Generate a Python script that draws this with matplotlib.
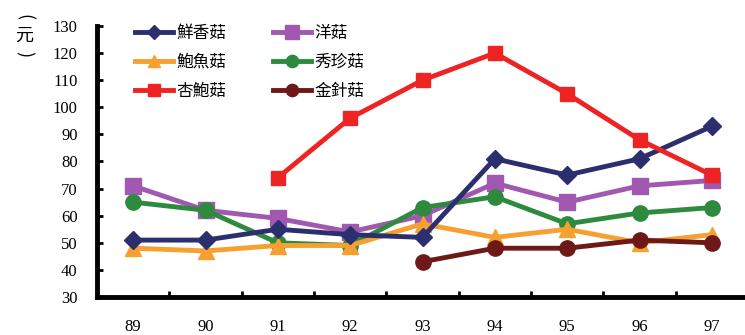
import matplotlib
matplotlib.use("Agg")
import matplotlib.pyplot as plt
import numpy as np

plt.rcParams['font.family'] = ['Noto Sans CJK TC', 'DejaVu Sans']

years = ['89', '90', '91', '92', '93', '94', '95', '96', '97']

# price per series, None where no data
xiang_gu = [51, 51, 55, 53, 52, 81, 75, 81, 93]        # 鮮香菇
yang_gu = [71, 62, 59, 54, 60, 72, 65, 71, 73]         # 洋菇
baoyu_gu = [48, 47, 49, 49, 57, 52, 55, 50, 53]        # 鮑魚菇
xiuzhen_gu = [65, 62, 50, 49, 63, 67, 57, 61, 63]      # 秀珍菇
xingbao_gu = [None, None, 74, 96, 110, 120, 105, 88, 75]  # 杏鮑菇
jinzhen_gu = [None, None, None, None, 43, 48, 48, 51, 50]  # 金針菇

series = [
    ('鮮香菇', xiang_gu, '#2b2f6e', 'D', 9),
    ('鮑魚菇', baoyu_gu, '#f5a030', '^', 11),
    ('杏鮑菇', xingbao_gu, '#ee2424', 's', 10),
    ('洋菇', yang_gu, '#a058b0', 's', 12),
    ('秀珍菇', xiuzhen_gu, '#2e8a3e', 'o', 11),
    ('金針菇', jinzhen_gu, '#6e1818', 'o', 11),
]

fig = plt.figure(figsize=(7.45, 3.35), dpi=100)
ax = fig.add_axes([97 / 745, 38 / 335, 651 / 745, 271 / 335])

x = np.arange(len(years))
draw_order = ['洋菇', '秀珍菇', '鮑魚菇', '鮮香菇', '金針菇', '杏鮑菇']
handles = {}
for name, vals, color, marker, ms in series:
    y = np.array([np.nan if v is None else v for v in vals], dtype=float)
    line, = ax.plot(x, y, color=color, lw=3.5, marker=marker, ms=ms,
                    label=name, zorder=3 + draw_order.index(name))
    handles[name] = line

ax.set_xlim(-0.5, 8.5)
ax.set_ylim(30, 130)
ax.set_xticks(x)
ax.set_xticklabels(years, family='Liberation Serif', fontsize=12)
ax.set_xticks(np.arange(-0.5, 9, 1), minor=True)
ax.tick_params(axis='x', which='major', length=0, pad=16)
ax.tick_params(axis='x', which='minor', direction='in', length=4, width=2)
ax.set_yticks(np.arange(30, 131, 10))
ax.set_yticklabels([str(v) for v in range(30, 131, 10)], family='Liberation Serif', fontsize=12)
ax.tick_params(axis='y', direction='in', length=4, width=2, pad=14)

for s in ['top', 'right']:
    ax.spines[s].set_visible(False)
for s in ['left', 'bottom']:
    ax.spines[s].set_linewidth(3.5)

# vertical "（元）" unit label
fig.text(24 / 745, 1 - 17 / 335, '(', rotation=-90, ha='center', va='center', fontsize=13)
fig.text(24 / 745, 1 - 36 / 335, '元', ha='center', va='center', fontsize=13)
fig.text(24 / 745, 1 - 54 / 335, ')', rotation=-90, ha='center', va='center', fontsize=13)

ax.legend(handles=[handles[s[0]] for s in series], ncol=2, loc='upper left',
          bbox_to_anchor=(0.035, 1.06), frameon=False, fontsize=12,
          handlelength=2.3, handletextpad=0.2, columnspacing=2.8,
          labelspacing=0.72, markerscale=0.8)

fig.savefig('out.png', dpi=100)
